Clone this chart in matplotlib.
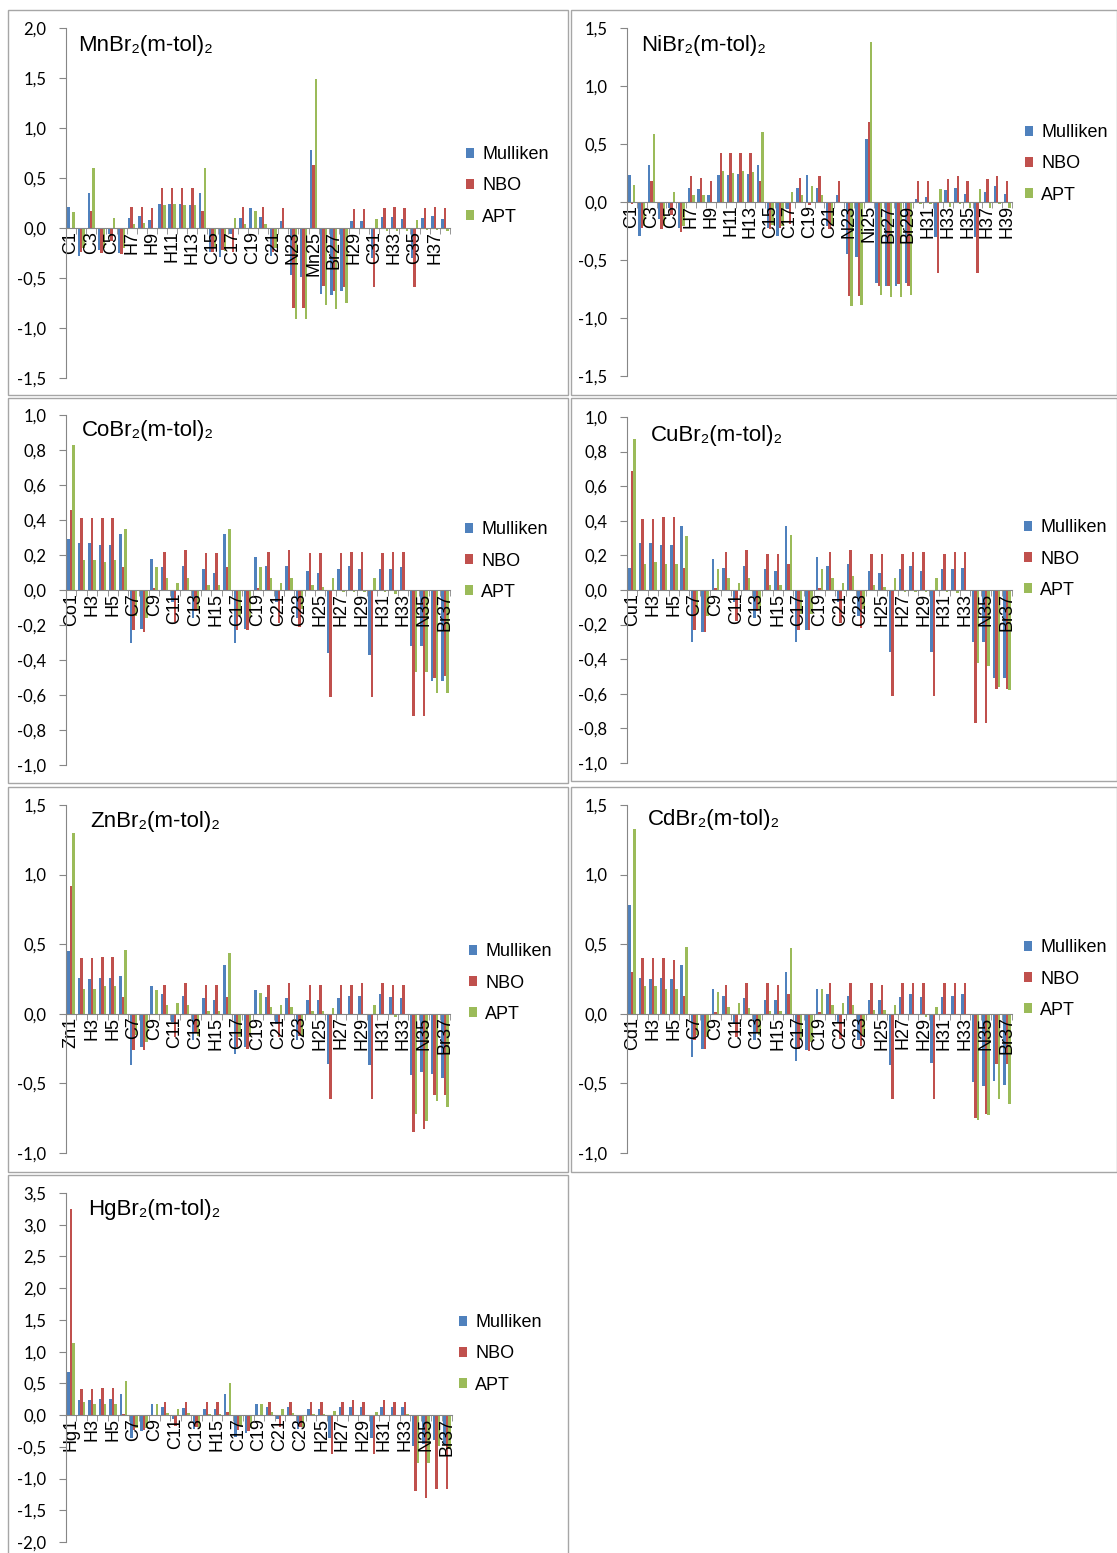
import matplotlib
matplotlib.use("Agg")
import matplotlib.pyplot as plt
import numpy as np
from matplotlib.patches import Rectangle
from matplotlib.ticker import FuncFormatter

W, H = 1117, 1553

# ---------------- data ----------------
mn_atoms = ["C1", "C2", "C3", "C4", "C5", "C6", "H7", "H8", "H9", "H10", "H11", "H12", "H13",
            "C14", "C15", "C16", "C17", "C18", "C19", "C20", "C21", "H22", "N23", "N24", "Mn25",
            "Br26", "Br27", "C28", "H29", "H30", "C31", "H32", "H33", "H34", "C35", "H36", "H37", "H38"]
mn_mull = [0.21, -0.28, 0.35, -0.22, -0.06, -0.25, 0.10, 0.12, 0.08, 0.24, 0.24, 0.24, 0.23,
           0.35, -0.24, -0.29, -0.06, 0.10, 0.20, 0.11, -0.28, 0.07, -0.47, -0.49, 0.78,
           -0.66, -0.67, -0.63, 0.07, 0.07, -0.30, 0.11, 0.11, 0.09, -0.30, 0.10, 0.12, 0.09]
mn_nbo = [-0.01, -0.24, 0.17, -0.25, -0.13, -0.26, 0.21, 0.21, 0.20, 0.40, 0.40, 0.40, 0.40,
          0.17, -0.24, -0.22, -0.24, 0.21, -0.01, 0.21, -0.24, 0.20, -0.80, -0.80, 0.63,
          -0.58, -0.63, -0.59, 0.19, 0.19, -0.59, 0.20, 0.21, 0.20, -0.59, 0.20, 0.21, 0.20]
mn_apt = [0.16, -0.20, 0.60, -0.20, 0.10, -0.20, 0.04, 0.05, -0.01, 0.23, 0.24, 0.23, 0.23,
          0.60, -0.20, -0.23, 0.10, 0.04, 0.17, 0.04, -0.20, 0.00, -0.91, -0.91, 1.49,
          -0.77, -0.81, -0.75, 0.00, 0.00, 0.09, -0.03, -0.03, -0.03, 0.08, -0.02, -0.02, -0.03]

ni_atoms = ["C1", "C2", "C3", "C4", "C5", "C6", "H7", "H8", "H9", "H10", "H11", "H12", "H13",
            "C14", "C15", "C16", "C17", "C18", "C19", "C20", "C21", "H22", "N23", "N24", "Ni25",
            "Br26", "Br27", "Br28", "Br29", "H30", "H31", "C32", "H33", "H34", "H35", "C36",
            "H37", "H38", "H39"]
ni_mull = [0.23, -0.29, 0.32, -0.15, -0.05, -0.22, 0.12, 0.11, 0.06, 0.23, 0.23, 0.24, 0.24,
           0.32, -0.22, -0.29, -0.06, 0.12, 0.23, 0.12, -0.21, 0.06, -0.45, -0.47, 0.54,
           -0.70, -0.72, -0.72, -0.70, 0.03, 0.04, -0.30, 0.10, 0.12, 0.07, -0.30,
           0.09, 0.14, 0.07]
ni_nbo = [-0.02, -0.22, 0.18, -0.23, -0.11, -0.26, 0.22, 0.21, 0.18, 0.42, 0.42, 0.42, 0.42,
          0.18, -0.23, -0.22, -0.19, 0.21, -0.03, 0.22, -0.23, 0.18, -0.81, -0.81, 0.69,
          -0.72, -0.72, -0.71, -0.72, 0.18, 0.18, -0.61, 0.20, 0.22, 0.18, -0.61,
          0.20, 0.22, 0.18]
ni_apt = [0.15, -0.21, 0.59, -0.21, 0.09, -0.21, 0.06, 0.06, 0.00, 0.27, 0.25, 0.27, 0.26,
          0.60, -0.20, -0.21, 0.09, 0.06, 0.14, 0.06, -0.20, -0.01, -0.90, -0.89, 1.38,
          -0.80, -0.82, -0.82, -0.80, -0.02, -0.02, 0.11, -0.04, -0.02, -0.05, 0.11,
          -0.05, -0.02, -0.05]

m_atoms = ["M1", "H2", "H3", "H4", "H5", "C6", "C7", "C8", "C9", "C10", "C11", "C12", "C13",
           "H14", "H15", "C16", "C17", "C18", "C19", "C20", "C21", "C22", "C23", "H24", "H25",
           "C26", "H27", "H28", "H29", "C30", "H31", "H32", "H33", "N34", "N35", "Br36", "Br37"]

co_mull = [0.29, 0.27, 0.27, 0.26, 0.26, 0.32, -0.30, -0.22, 0.18, 0.13, -0.07, 0.14, -0.16,
           0.12, 0.10, 0.32, -0.30, -0.22, 0.19, 0.14, -0.07, 0.14, -0.16, 0.11, 0.10,
           -0.36, 0.12, 0.14, 0.12, -0.37, 0.12, 0.12, 0.13, -0.32, -0.32, -0.52, -0.52]
co_nbo = [0.46, 0.41, 0.41, 0.41, 0.41, 0.13, -0.23, -0.24, 0.01, 0.22, -0.18, 0.23, -0.12,
          0.21, 0.21, 0.13, -0.23, -0.23, 0.01, 0.22, -0.19, 0.23, -0.21, 0.21, 0.21,
          -0.61, 0.21, 0.22, 0.22, -0.61, 0.21, 0.22, 0.22, -0.72, -0.72, -0.50, -0.49]
co_apt = [0.83, 0.17, 0.17, 0.16, 0.17, 0.35, -0.15, -0.16, 0.13, 0.07, 0.04, 0.07, -0.11,
          0.03, 0.03, 0.35, -0.15, -0.16, 0.13, 0.07, 0.04, 0.07, -0.11, 0.03, 0.02,
          0.07, -0.01, -0.01, -0.01, 0.07, -0.01, -0.02, 0.00, -0.47, -0.47, -0.59, -0.59]

cu_mull = [0.13, 0.27, 0.27, 0.26, 0.26, 0.37, -0.30, -0.24, 0.18, 0.13, -0.07, 0.14, -0.16,
           0.12, 0.11, 0.37, -0.30, -0.23, 0.19, 0.14, -0.07, 0.15, -0.15, 0.11, 0.10,
           -0.36, 0.12, 0.14, 0.11, -0.36, 0.12, 0.12, 0.13, -0.30, -0.30, -0.51, -0.51]
cu_nbo = [0.69, 0.41, 0.41, 0.42, 0.42, 0.13, -0.23, -0.24, 0.01, 0.22, -0.18, 0.23, -0.12,
          0.21, 0.21, 0.15, -0.23, -0.23, 0.01, 0.22, -0.19, 0.23, -0.22, 0.21, 0.21,
          -0.61, 0.21, 0.22, 0.22, -0.61, 0.21, 0.22, 0.22, -0.77, -0.77, -0.57, -0.57]
cu_apt = [0.87, 0.15, 0.16, 0.15, 0.15, 0.31, -0.14, -0.15, 0.12, 0.07, 0.04, 0.07, -0.11,
          0.03, 0.03, 0.32, -0.14, -0.14, 0.12, 0.07, 0.04, 0.08, -0.11, 0.03, 0.02,
          0.07, -0.01, -0.01, -0.01, 0.07, -0.01, -0.02, 0.00, -0.42, -0.44, -0.56, -0.58]

zn_mull = [0.45, 0.26, 0.25, 0.26, 0.26, 0.27, -0.37, -0.24, 0.20, 0.14, -0.06, 0.13, -0.19,
           0.11, 0.10, 0.35, -0.29, -0.24, 0.17, 0.12, -0.07, 0.11, -0.19, 0.10, 0.10,
           -0.36, 0.11, 0.13, 0.13, -0.37, 0.14, 0.12, 0.11, -0.44, -0.42, -0.43, -0.46]
zn_nbo = [0.92, 0.40, 0.40, 0.41, 0.41, 0.12, -0.26, -0.26, 0.00, 0.21, -0.17, 0.22, -0.14,
          0.21, 0.21, 0.12, -0.24, -0.25, 0.00, 0.21, -0.17, 0.22, -0.16, 0.21, 0.21,
          -0.61, 0.21, 0.21, 0.22, -0.61, 0.22, 0.21, 0.21, -0.85, -0.83, -0.58, -0.58]
zn_apt = [1.30, 0.18, 0.18, 0.20, 0.20, 0.46, -0.15, -0.20, 0.17, 0.06, 0.08, 0.06, -0.16,
          0.02, 0.02, 0.44, -0.17, -0.17, 0.15, 0.05, 0.06, 0.05, -0.16, 0.02, 0.02,
          0.04, -0.01, 0.00, -0.01, 0.06, -0.01, -0.02, -0.01, -0.72, -0.77, -0.63, -0.67]

cd_mull = [0.78, 0.26, 0.25, 0.26, 0.25, 0.35, -0.31, -0.25, 0.18, 0.13, -0.07, 0.11, -0.19,
           0.10, 0.10, 0.30, -0.34, -0.26, 0.18, 0.14, -0.06, 0.13, -0.19, 0.10, 0.10,
           -0.37, 0.12, 0.14, 0.12, -0.35, 0.12, 0.13, 0.14, -0.49, -0.52, -0.48, -0.51]
cd_nbo = [0.30, 0.40, 0.40, 0.40, 0.39, 0.13, -0.19, -0.25, 0.01, 0.21, -0.17, 0.22, -0.14,
          0.22, 0.21, 0.14, -0.25, -0.27, 0.01, 0.22, -0.18, 0.22, -0.23, 0.22, 0.21,
          -0.61, 0.22, 0.22, 0.22, -0.61, 0.22, 0.22, 0.22, -0.75, -0.72, -0.36, -0.36]
cd_apt = [1.33, 0.20, 0.20, 0.18, 0.18, 0.48, -0.15, -0.17, 0.16, 0.05, 0.08, 0.04, -0.15,
          0.02, 0.02, 0.47, -0.18, -0.20, 0.18, 0.06, 0.08, 0.06, -0.15, 0.03, 0.03,
          0.06, -0.01, 0.00, -0.02, 0.05, -0.01, -0.01, -0.01, -0.76, -0.73, -0.61, -0.65]

hg_mull = [0.68, 0.24, 0.24, 0.26, 0.26, 0.34, -0.36, -0.25, 0.18, 0.12, -0.06, 0.11, -0.22,
           0.10, 0.10, 0.33, -0.34, -0.28, 0.18, 0.12, -0.06, 0.12, -0.22, 0.10, 0.10,
           -0.36, 0.12, 0.13, 0.12, -0.36, 0.13, 0.12, 0.13, -0.49, -0.45, -0.40, -0.45]
hg_nbo = [3.25, 0.41, 0.41, 0.42, 0.42, 0.01, -0.23, -0.24, 0.00, 0.20, -0.17, 0.20, -0.18,
          0.21, 0.21, 0.05, -0.23, -0.25, 0.00, 0.20, -0.18, 0.21, -0.19, 0.21, 0.21,
          -0.61, 0.21, 0.23, 0.21, -0.61, 0.23, 0.21, 0.21, -1.20, -1.31, -1.16, -1.16]
hg_apt = [1.14, 0.20, 0.18, 0.17, 0.17, 0.53, -0.20, -0.20, 0.18, 0.04, 0.09, 0.04, -0.18,
          0.01, 0.01, 0.50, -0.17, -0.20, 0.18, 0.05, 0.09, 0.04, -0.18, 0.01, 0.01,
          0.06, -0.02, 0.00, -0.02, 0.05, -0.02, -0.02, 0.02, -0.76, -0.76, -0.49, -0.53]

series_names = ["Mulliken", "NBO", "APT"]
colors = ["#4F81BD", "#C0504D", "#9BBB59"]

# ---------------- drawing ----------------
fig = plt.figure(figsize=(W / 100, H / 100), dpi=100)
TXT = ["Liberation Sans", "DejaVu Sans"]


def fx(px):
    return px / W


def fy(py):
    return 1 - py / H


def comma(v, p):
    v = round(v, 1)
    if v == 0:
        v = 0.0
    return f"{abs(v):.1f}".replace(".", ",") if v >= 0 else "-" + f"{abs(v):.1f}".replace(".", ",")


def panel(box, plot, ylim, ystep, title, atoms, mull, nbo, apt, title_xy, leg_xy):
    # grey frame of the excel chart
    bx0, by0, bx1, by1 = box
    fig.patches.append(Rectangle((fx(bx0), fy(by1)), fx(bx1 - bx0), (by1 - by0) / H,
                                 transform=fig.transFigure, fill=False,
                                 edgecolor="#a6a6a6", linewidth=1.0))
    x0, y0, x1, y1 = plot
    ax = fig.add_axes([fx(x0), fy(y1), fx(x1 - x0), (y1 - y0) / H])
    n = len(atoms)
    x = np.arange(n)
    w = 0.24
    handles = []
    for k, vals in enumerate([mull, nbo, apt]):
        b = ax.bar(x + (k - 1) * w, vals, w, color=colors[k], label=series_names[k])
        handles.append(b)
    ax.set_xlim(-0.5, n - 0.5)
    ax.set_ylim(*ylim)
    ax.set_yticks(np.arange(ylim[0], ylim[1] + 1e-9, ystep))
    ax.yaxis.set_major_formatter(FuncFormatter(comma))
    for s in ["top", "right"]:
        ax.spines[s].set_visible(False)
    ax.spines["bottom"].set_position(("data", 0))
    ax.spines["left"].set_color("#868686")
    ax.spines["bottom"].set_color("#868686")
    ax.set_xticks(x)
    ax.set_xticklabels([a if i % 2 == 0 else "" for i, a in enumerate(atoms)],
                       rotation=90, family=TXT, fontsize=13)
    ax.tick_params(axis="x", length=0, pad=2)
    ax.set_xticks(np.arange(n + 1) - 0.5, minor=True)
    ax.tick_params(axis="x", which="minor", length=4, color="#868686", direction="out")
    ax.tick_params(axis="y", length=5, color="#868686", direction="out", pad=9,
                   labelsize=12)
    for lab in ax.get_yticklabels():
        lab.set_family(["Lato", "DejaVu Sans"])
    ax.set_facecolor("none")
    fig.text(fx(title_xy[0]), fy(title_xy[1]), title, family=TXT, fontsize=16,
             ha="left", va="center")
    fig.legend(handles=handles, loc="center left", bbox_to_anchor=(fx(leg_xy[0]), fy(leg_xy[1])),
               frameon=False, prop={"family": TXT, "size": 13}, handlelength=0.45,
               handleheight=0.45, handletextpad=0.45, labelspacing=0.78,
               borderpad=0, borderaxespad=0)


def metal(sym):
    return [sym + "1"] + m_atoms[1:]


panel((8, 10, 568, 395), (66, 28, 450, 378), (-1.5, 2.0), 0.5, "MnBr₂(m-tol)₂",
      mn_atoms, mn_mull, mn_nbo, mn_apt, (78, 45), (466, 186))
panel((571, 10, 1117, 395), (627, 28, 1012, 376), (-1.5, 1.5), 0.5, "NiBr₂(m-tol)₂",
      ni_atoms, ni_mull, ni_nbo, ni_apt, (641, 45), (1025, 164))
panel((8, 398, 568, 783), (66, 415, 450, 765), (-1.0, 1.0), 0.2, "CoBr₂(m-tol)₂",
      metal("Co"), co_mull, co_nbo, co_apt, (82, 431), (465, 561))
panel((571, 398, 1117, 781), (627, 417, 1012, 763), (-1.0, 1.0), 0.2, "CuBr₂(m-tol)₂",
      metal("Cu"), cu_mull, cu_nbo, cu_apt, (651, 435), (1024, 559))
panel((8, 787, 568, 1172), (66, 805, 450, 1153), (-1.0, 1.5), 0.5, "ZnBr₂(m-tol)₂",
      metal("Zn"), zn_mull, zn_nbo, zn_apt, (90, 822), (469, 983))
panel((571, 787, 1117, 1172), (627, 805, 1012, 1153), (-1.0, 1.5), 0.5, "CdBr₂(m-tol)₂",
      metal("Cd"), cd_mull, cd_nbo, cd_apt, (648, 819), (1024, 979))
panel((8, 1175, 568, 1560), (66, 1193, 452, 1542), (-2.0, 3.5), 0.5, "HgBr₂(m-tol)₂",
      metal("Hg"), hg_mull, hg_nbo, hg_apt, (88, 1209), (459, 1354))

fig.savefig("out.png", dpi=100)
